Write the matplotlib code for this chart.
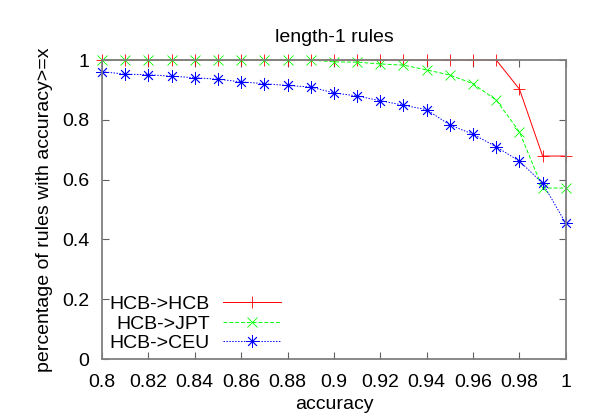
import numpy as np
import matplotlib
matplotlib.use("Agg")
import matplotlib.pyplot as plt

plt.rcParams['font.family'] = ['Liberation Sans', 'DejaVu Sans']

accuracy = [0.80, 0.81, 0.82, 0.83, 0.84, 0.85, 0.86, 0.87, 0.88, 0.89, 0.90,
            0.91, 0.92, 0.93, 0.94, 0.95, 0.96, 0.97, 0.98, 0.99, 1.00]

hcb_hcb = [1.0, 1.0, 1.0, 1.0, 1.0, 1.0, 1.0, 1.0, 1.0, 1.0, 1.0,
           1.0, 1.0, 1.0, 1.0, 1.0, 1.0, 1.0, 0.903, 0.679, 0.679]
hcb_jpt = [1.0, 1.0, 1.0, 1.0, 1.0, 1.0, 1.0, 1.0, 1.0, 1.0, 0.994,
           0.993, 0.987, 0.983, 0.967, 0.95, 0.921, 0.866, 0.76, 0.572, 0.572]
hcb_ceu = [0.961, 0.953, 0.951, 0.946, 0.941, 0.936, 0.927, 0.921, 0.915, 0.91, 0.89,
           0.88, 0.864, 0.849, 0.834, 0.783, 0.752, 0.71, 0.662, 0.588, 0.454]

labels = ["HCB->HCB", "HCB->JPT", "HCB->CEU"]
xticks = [0.80, 0.82, 0.84, 0.86, 0.88, 0.90, 0.92, 0.94, 0.96, 0.98, 1.00]
xtick_labels = ["0.8", "0.82", "0.84", "0.86", "0.88", "0.9", "0.92", "0.94", "0.96", "0.98", "1"]
yticks = [0, 0.2, 0.4, 0.6, 0.8, 1.0]
ytick_labels = ["0", "0.2", "0.4", "0.6", "0.8", "1"]

fs = 14

fig = plt.figure(figsize=(6, 4.2), dpi=100)
ax = fig.add_axes([0.17, 0.145, 0.773, 0.712])

ax.plot(accuracy, hcb_hcb, color='#ff0000', lw=0.7, ls='-', marker='+',
        ms=9, mew=0.6, clip_on=False, label=labels[0])
ax.plot(accuracy, hcb_jpt, color='#00ff00', lw=0.7, ls=(0, (4, 2)), marker='x',
        ms=7.5, mew=0.6, clip_on=False, label=labels[1])
ax.plot(accuracy, hcb_ceu, color='#0000ff', lw=0.7, ls=(0, (1.5, 1.5)), marker=(8, 2, 0),
        ms=9, mew=0.6, clip_on=False, label=labels[2])

ax.set_xlim(0.8, 1.0)
ax.set_ylim(0, 1)
ax.set_xticks(xticks)
ax.set_xticklabels(xtick_labels)
ax.set_yticks(yticks)
ax.set_yticklabels(ytick_labels)
ax.tick_params(direction='in', length=5, width=0.8, color='#606060',
               top=True, right=True, labelsize=fs)
ax.tick_params(axis='x', pad=11)
ax.tick_params(axis='y', pad=9)

for s in ax.spines.values():
    s.set_color('#808080')
    s.set_linewidth(1.3)

ax.set_title("length-1 rules", fontsize=fs, pad=13)
ax.set_xlabel("accuracy", fontsize=fs, labelpad=3)
ax.set_ylabel("percentage of rules with accuracy>=x", fontsize=fs, labelpad=7)

ax.legend(loc='lower left', bbox_to_anchor=(-0.013, -0.022), frameon=False,
          markerfirst=False, handlelength=3.0, handletextpad=0.67,
          labelspacing=0.1, fontsize=fs, borderaxespad=0.3)

fig.savefig("out.png", dpi=100)
